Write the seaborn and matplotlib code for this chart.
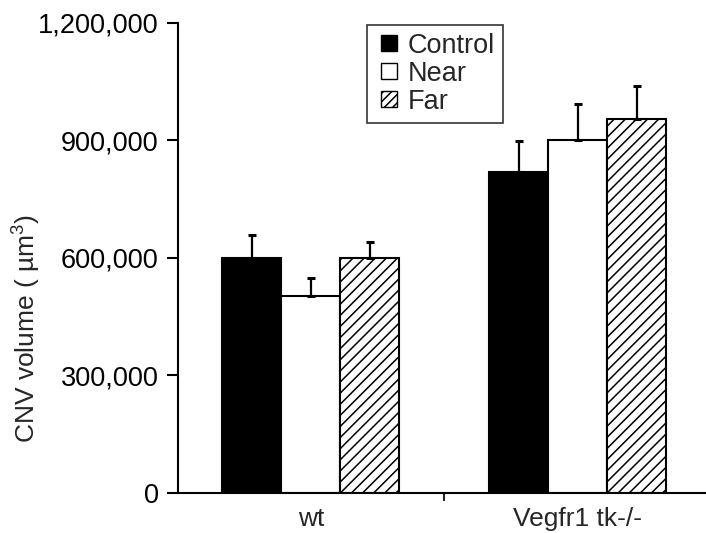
import matplotlib
matplotlib.use("Agg")
import matplotlib.pyplot as plt
import matplotlib.ticker as mticker
from matplotlib.patches import Patch, Rectangle
from matplotlib.legend_handler import HandlerPatch
import seaborn as sns
import pandas as pd

groups = ["wt", "Vegfr1 tk-/-"]
conditions = ["Control", "Near", "Far"]
control_vals = [600000, 820000]
near_vals = [502000, 901000]
far_vals = [601000, 954000]
control_err = [58000, 79000]
near_err = [46000, 93000]
far_err = [41000, 84000]
y_ticks = [0, 300000, 600000, 900000, 1200000]

sns.set_style("ticks")
plt.rcParams["font.family"] = ["Liberation Sans", "DejaVu Sans"]
plt.rcParams["mathtext.fontset"] = "custom"
plt.rcParams["mathtext.rm"] = "Liberation Sans"
plt.rcParams["mathtext.default"] = "regular"
plt.rcParams["hatch.linewidth"] = 1.1
plt.rcParams["hatch.color"] = "black"

rows = []
for cond, vals in zip(conditions, [control_vals, near_vals, far_vals]):
    for g, v in zip(groups, vals):
        rows.append({"group": g, "condition": cond, "value": v})
df = pd.DataFrame(rows)

fig = plt.figure(figsize=(7.06, 5.33), dpi=100)
ax = fig.add_axes([0.2521, 0.075, 0.748, 0.882])

palette = {"Control": "black", "Near": "white", "Far": "white"}
sns.barplot(data=df, x="group", y="value", hue="condition", order=groups,
            hue_order=conditions, palette=palette, edgecolor="black",
            linewidth=1.5, width=0.663, errorbar=None, legend=False, ax=ax,
            saturation=1)

for bar in ax.containers[2]:
    bar.set_hatch("///")

errs = [control_err, near_err, far_err]
vals_all = [control_vals, near_vals, far_vals]
for cont, vals, es in zip(ax.containers, vals_all, errs):
    xs = [p.get_x() + p.get_width() / 2 for p in cont]
    ax.errorbar(xs, vals, yerr=[[0] * len(es), es], fmt="none", ecolor="black",
                elinewidth=1.6, capsize=3.2, capthick=2.2, zorder=1)

ax.set_ylim(0, 1200000)
ax.set_xlim(-0.498, 1.48)
ax.set_yticks(y_ticks)
ax.yaxis.set_major_formatter(mticker.FuncFormatter(lambda v, p: f"{int(v):,}"))
ax.tick_params(axis="y", labelsize=19.5, length=8, width=1.5, pad=6, colors="black")
ax.set_xticks([0, 1])
ax.set_xticklabels(groups)
ax.tick_params(axis="x", which="major", labelsize=19, length=0, pad=10)
ax.set_xticks([0.5], minor=True)
ax.tick_params(axis="x", which="minor", length=6, width=1.5, direction="out")

sns.despine(ax=ax)
for s in ["left", "bottom"]:
    ax.spines[s].set_linewidth(1.5)
    ax.spines[s].set_color("black")

ax.set_xlabel("")
ax.set_ylabel("CNV volume ( µm$^3$)", fontsize=19)
ax.yaxis.set_label_coords(-0.255, 0.35)


def square_right(legend, orig_handle, xdescent, ydescent, width, height, fontsize):
    side = min(height * 1.05, width)
    return Rectangle((-xdescent + width - side, -ydescent + (height - side) / 2),
                     side, side)


handles = [Patch(facecolor="black", edgecolor="black", label="Control"),
           Patch(facecolor="white", edgecolor="black", label="Near"),
           Patch(facecolor="white", edgecolor="black", hatch="////", label="Far")]
leg = ax.legend(handles=handles, loc="upper left", bbox_to_anchor=(0.358, 0.996),
                borderaxespad=0, fontsize=19.5, frameon=True, fancybox=False,
                handlelength=0.81, handleheight=0.5, handletextpad=0.4,
                labelspacing=0.07, borderpad=0.3,
                handler_map={Patch: HandlerPatch(patch_func=square_right)})
leg.get_frame().set_edgecolor("black")
leg.get_frame().set_linewidth(1.2)

fig.savefig("out.png", dpi=100)
